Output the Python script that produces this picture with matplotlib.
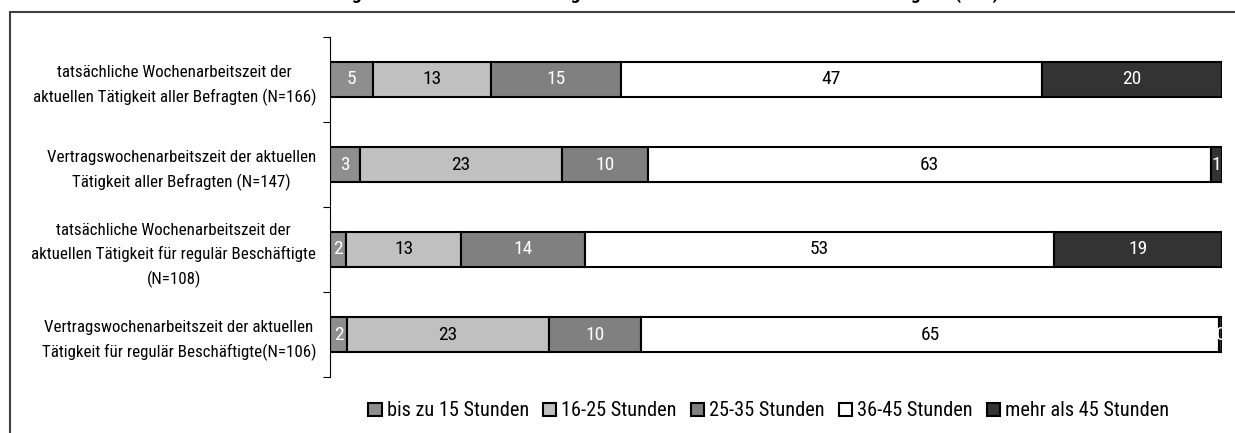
"""Stacked horizontal bars: weekly working hours groups (in %), Excel-style look."""

import matplotlib
matplotlib.use("Agg")
import matplotlib.pyplot as plt
from matplotlib.patches import Rectangle, Patch
from matplotlib.ticker import FixedLocator, NullFormatter

plt.rcParams['font.family'] = ['Roboto Condensed', 'Liberation Sans Narrow', 'Liberation Sans', 'DejaVu Sans']

# categories, top to bottom
categories = [
    "tatsächliche Wochenarbeitszeit der\naktuellen Tätigkeit aller Befragten (N=166)",
    "Vertragswochenarbeitszeit der aktuellen\nTätigkeit aller Befragten (N=147)",
    "tatsächliche Wochenarbeitszeit der\naktuellen Tätigkeit für regulär Beschäftigte\n(N=108)",
    "Vertragswochenarbeitszeit der aktuellen\nTätigkeit für regulär Beschäftigte(N=106)",
]
series_names = ["bis zu 15 Stunden", "16-25 Stunden", "25-35 Stunden",
                "36-45 Stunden", "mehr als 45 Stunden"]

# shares in %, one list per series (same order as categories)
bis_15 = [4.8, 3.4, 1.8, 1.9]
h16_25 = [13.2, 22.6, 12.9, 22.6]
h25_35 = [14.6, 9.6, 13.9, 10.4]
h36_45 = [47.2, 63.2, 52.6, 64.8]
mehr_45 = [20.2, 1.2, 18.8, 0.3]

series = [bis_15, h16_25, h25_35, h36_45, mehr_45]
fill_colors = ['#8e8e8e', '#c0c0c0', '#808080', '#ffffff', '#333333']
text_colors = ['white', 'black', 'white', 'black', 'white']

fig = plt.figure(figsize=(12.35, 4.33), dpi=100, facecolor='white')
ax = fig.add_axes([330 / 1235, 1 - 377 / 433, (1222 - 330) / 1235, 340 / 433])

ypos = list(range(len(categories)))
left = [0.0] * len(categories)
for vals, fc, tc in zip(series, fill_colors, text_colors):
    bars = ax.barh(ypos, vals, left=left, height=0.42, color=fc,
                   edgecolor='black', linewidth=1.5)
    ax.bar_label(bars, labels=[f"{v:.0f}" for v in vals], label_type='center',
                 color=tc, fontsize=14)
    left = [l + v for l, v in zip(left, vals)]

ax.set_xlim(0, 100)
ax.set_ylim(len(categories) - 0.5, -0.5)
ax.set_xticks([])
ax.set_yticks(ypos)
ax.set_yticklabels(categories, fontsize=12.2, multialignment='center', linespacing=1.6)
ax.tick_params(axis='y', which='major', length=0, pad=10)
ax.yaxis.set_minor_locator(FixedLocator([i - 0.5 for i in range(len(categories) + 1)]))
ax.yaxis.set_minor_formatter(NullFormatter())
ax.tick_params(axis='y', which='minor', length=5, width=0.8, direction='out')
for side in ['top', 'right', 'bottom']:
    ax.spines[side].set_visible(False)
ax.spines['left'].set_linewidth(0.8)

handles = [Patch(facecolor=fc, edgecolor='black', linewidth=1.5) for fc in fill_colors]
fig.legend(handles, series_names, loc='center', bbox_to_anchor=(769 / 1235, 1 - 411 / 433),
           ncol=5, frameon=False, fontsize=14.6, handlelength=0.65, handleheight=0.65,
           handletextpad=0.25, columnspacing=0.7)

# chart area frame (runs off the right and bottom edge)
fig.patches.append(Rectangle((10 / 1235, -0.1), 1.2, 1 - 12 / 433 + 0.1,
                             transform=fig.transFigure, fill=False,
                             edgecolor='#404040', linewidth=1.5))

# title sits mostly above the visible area
fig.text(640 / 1235, 1 + 1 / 433,
         "Abbildung 7: Tatsächliche und vertragliche Wochenarbeitszeit der aktuellen Tätigkeit (in %)",
         ha='center', va='baseline', fontsize=14, fontweight='bold')

fig.savefig("out.png", dpi=100, facecolor='white')
